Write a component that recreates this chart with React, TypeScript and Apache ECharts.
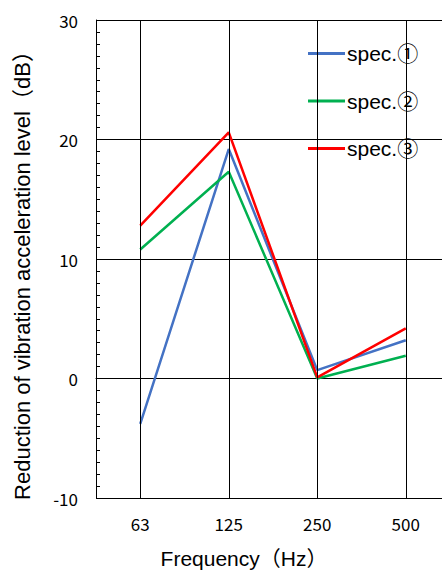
import React, { useEffect, useRef } from "react";
import * as echarts from "echarts";

const categories = ["63", "125", "250", "500"];
const seriesNames = ["spec.①", "spec.②", "spec.③"];
const spec1 = [-3.8, 19.2, 0.7, 3.2];
const spec2 = [10.8, 17.3, 0.0, 1.9];
const spec3 = [12.8, 20.6, 0.1, 4.2];
const yTicks = { min: -10, max: 30, interval: 10 };
const colors = ["#4472C4", "#00B050", "#FF0000"];

export default function App() {
  const ref = useRef<HTMLDivElement>(null);
  useEffect(() => {
    document.body.style.margin = "0";
    const chart = echarts.init(ref.current!, null, { renderer: "svg" });
    const values = [spec1, spec2, spec3];
    const series: any[] = values.map((d, i) => ({
      name: seriesNames[i],
      type: "line",
      data: d,
      symbol: "none",
      lineStyle: { color: colors[i], width: 2.5 },
      itemStyle: { color: colors[i] },
      z: 3,
    }));
    series.push({
      type: "line",
      data: [],
      silent: true,
      markLine: {
        silent: true,
        symbol: "none",
        label: { show: false },
        lineStyle: { color: "#000", width: 1, type: "solid" },
        data: categories.map((c) => ({ xAxis: c })),
      },
      z: 1,
    });
    chart.setOption({
      animation: false,
      legend: {
        orient: "vertical",
        left: 308,
        top: 43,
        padding: 0,
        icon: "rect",
        itemWidth: 37,
        itemHeight: 3,
        itemGap: 26.5,
        data: seriesNames,
        textStyle: {
          color: "#000",
          fontSize: 21,
          lineHeight: 21,
          fontFamily: "'Liberation Sans', 'Noto Sans CJK JP'",
          padding: [0, 0, 0, -3],
        },
      },
      grid: { left: 96, top: 20, bottom: 72, right: 0, containLabel: false },
      xAxis: {
        type: "category",
        data: categories,
        boundaryGap: true,
        axisLine: { lineStyle: { color: "#000", width: 1 } },
        axisTick: { show: false },
        axisLabel: { color: "#000", fontSize: 17, margin: 17, fontFamily: "Noto Sans CJK JP" },
        splitLine: { show: false },
        name: "Frequency（Hz）",
        nameLocation: "middle",
        nameGap: 50,
        nameTextStyle: {
          color: "#000",
          fontSize: 21,
          fontFamily: "'Liberation Sans', 'Noto Sans CJK JP'",
          padding: [0, 58, 0, 0],
        },
      },
      yAxis: {
        type: "value",
        min: yTicks.min,
        max: yTicks.max,
        interval: yTicks.interval,
        axisLine: { show: true, lineStyle: { color: "#000", width: 1 } },
        axisTick: { show: false, inside: true },
        minorTick: { show: true, splitNumber: 10, length: 4, lineStyle: { color: "#000" } },
        axisLabel: { color: "#000", fontSize: 17, margin: 18, fontFamily: "Noto Sans CJK JP" },
        splitLine: { show: true, lineStyle: { color: "#000", width: 1 } },
        name: "Reduction of vibration acceleration level（dB）",
        nameLocation: "middle",
        nameGap: 63,
        nameTextStyle: {
          color: "#000",
          fontSize: 22,
          fontFamily: "'Liberation Sans', 'Noto Sans CJK JP'",
          padding: [0, 22, 0, 0],
        },
      },
      series,
    });
    return () => chart.dispose();
  }, []);
  return (
    <div style={{ width: 442, height: 574, overflow: "hidden" }}>
      <div ref={ref} style={{ width: 450, height: 574 }} />
    </div>
  );
}
